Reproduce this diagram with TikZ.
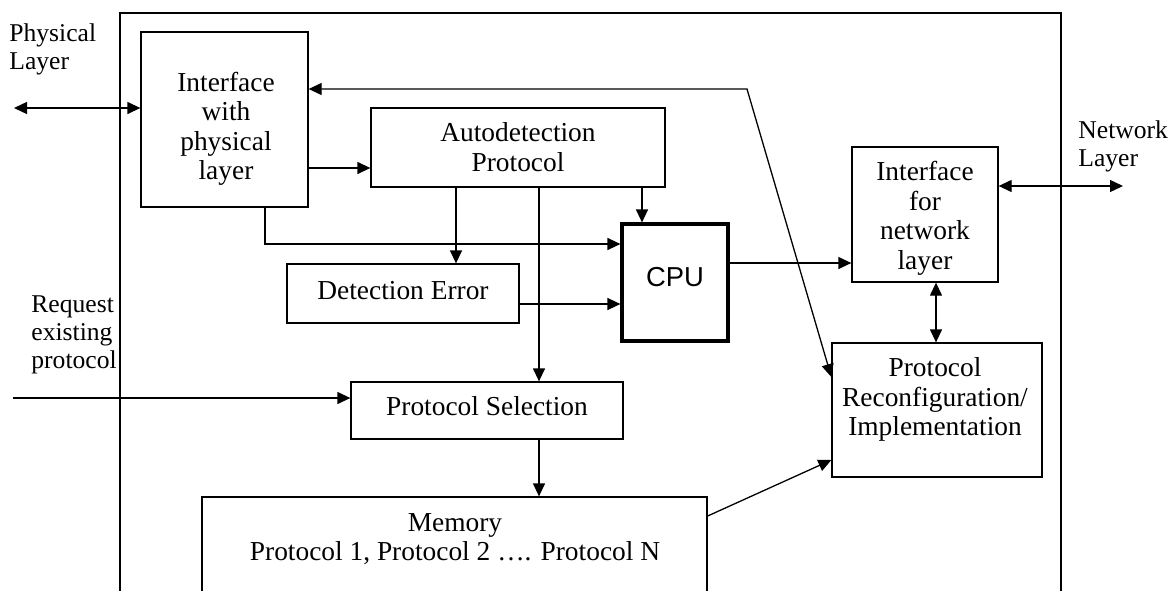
\documentclass[tikz,border=0pt]{standalone}
\usepackage{fontspec}
\setmainfont{Liberation Serif}
\newfontfamily\cpufont{Liberation Sans}
\usetikzlibrary{arrows.meta,fit}
\begin{document}
\begin{tikzpicture}[x=0.5pt,y=-0.5pt,
  every node/.style={font=\fontsize{13.7pt}{14.75pt}\selectfont},
  box/.style={draw, line width=0.65pt, inner sep=0pt},
  lbl/.style={align=center, inner sep=0pt},
  side/.style={align=left, anchor=west, inner sep=0pt, font=\fontsize{12.8pt}{14pt}\selectfont},
  tip/.style={Triangle[length=6.5pt,width=6pt]},
  conn/.style={line width=0.65pt, -{Triangle[length=6.5pt,width=6pt]}},
  biconn/.style={line width=0.65pt, {Triangle[length=6.5pt,width=6pt]}-{Triangle[length=6.5pt,width=6pt]}},
]
\useasboundingbox (0,0) rectangle (1174,590);
\clip (0,0) rectangle (1174,590);

% outer frame
\node[box, line width=0.75pt, fit={(120,13) (1061,640)}] (frame) {};

% boxes
\node[box, fit={(141,32) (308,207)}] (ifphys) {};
\node[box, fit={(371,108) (665,187)}] (autodet) {};
\node[box, fit={(287,264) (519,323)}] (deterr) {};
\node[box, line width=1.6pt, fit={(622,224) (728,341)}] (cpu) {};
\node[box, fit={(852,147) (998,282)}] (ifnet) {};
\node[box, fit={(832,343) (1042,477)}] (reconf) {};
\node[box, fit={(351,382) (623,439)}] (protsel) {};
\node[box, fit={(202,497) (707,640)}] (memory) {};

% texts
\node[lbl] (tifphys) at (226,129) {Interface\\with\\physical\\layer};
\node[lbl] (tautodet) at (518,147) {Autodetection\\Protocol};
\node[lbl] (tderr) at (403,291) {Detection Error};
\node[lbl, font=\cpufont\fontsize{13.7pt}{14.75pt}\selectfont] (tcpu) at (675,277) {CPU};
\node[lbl] (tifnet) at (925,218.5) {Interface\\for\\network\\layer};
\node[lbl] (treconf) at (935,399.5) {Protocol\\Reconfiguration/\\Implementation};
\node[lbl] (tprotsel) at (487,406) {Protocol Selection};
\node[lbl] (tmem) at (455,539) {Memory\\Protocol 1, Protocol 2 …. Protocol N};
\node[side] (tphys) at (9,49.5) {Physical\\Layer};
\node[side] (tnet) at (1078,146.5) {Network\\Layer};
\node[side] (treq) at (31,335) {Request\\existing\\protocol};

% free ends
\coordinate (physend) at (14,108);
\coordinate (netend) at (1123,186);
\coordinate (reqstart) at (13,398);
\coordinate (bend) at (747,89);

% connectors
\draw[biconn] (physend) -- (physend -| ifphys.west);
\draw[conn] (ifphys.east |- 0,168) -- (autodet.west |- 0,168);
\draw[biconn] (ifphys.east |- bend) -- (bend) -- (reconf.west |- 0,377);
\draw[conn] (265,0 |- ifphys.south) |- (cpu.west |- 0,244);
\draw[conn] (456,0 |- autodet.south) -- (456,0 |- deterr.north);
\draw[conn] (539,0 |- autodet.south) -- (539,0 |- protsel.north);
\draw[conn] (642,0 |- autodet.south) -- (642,0 |- cpu.north);
\draw[conn] (deterr.east |- 0,304) -- (cpu.west |- 0,304);
\draw[conn] (cpu.east |- 0,263) -- (ifnet.west |- 0,263);
\draw[biconn] (ifnet.east |- netend) -- (netend);
\draw[biconn] (936,0 |- ifnet.south) -- (936,0 |- reconf.north);
\draw[conn] (reqstart) -- (protsel.west |- reqstart);
\draw[conn] (539,0 |- protsel.south) -- (539,0 |- memory.north);
\draw[conn] (memory.east |- 0,516) -- (reconf.west |- 0,460);
\end{tikzpicture}
\end{document}
